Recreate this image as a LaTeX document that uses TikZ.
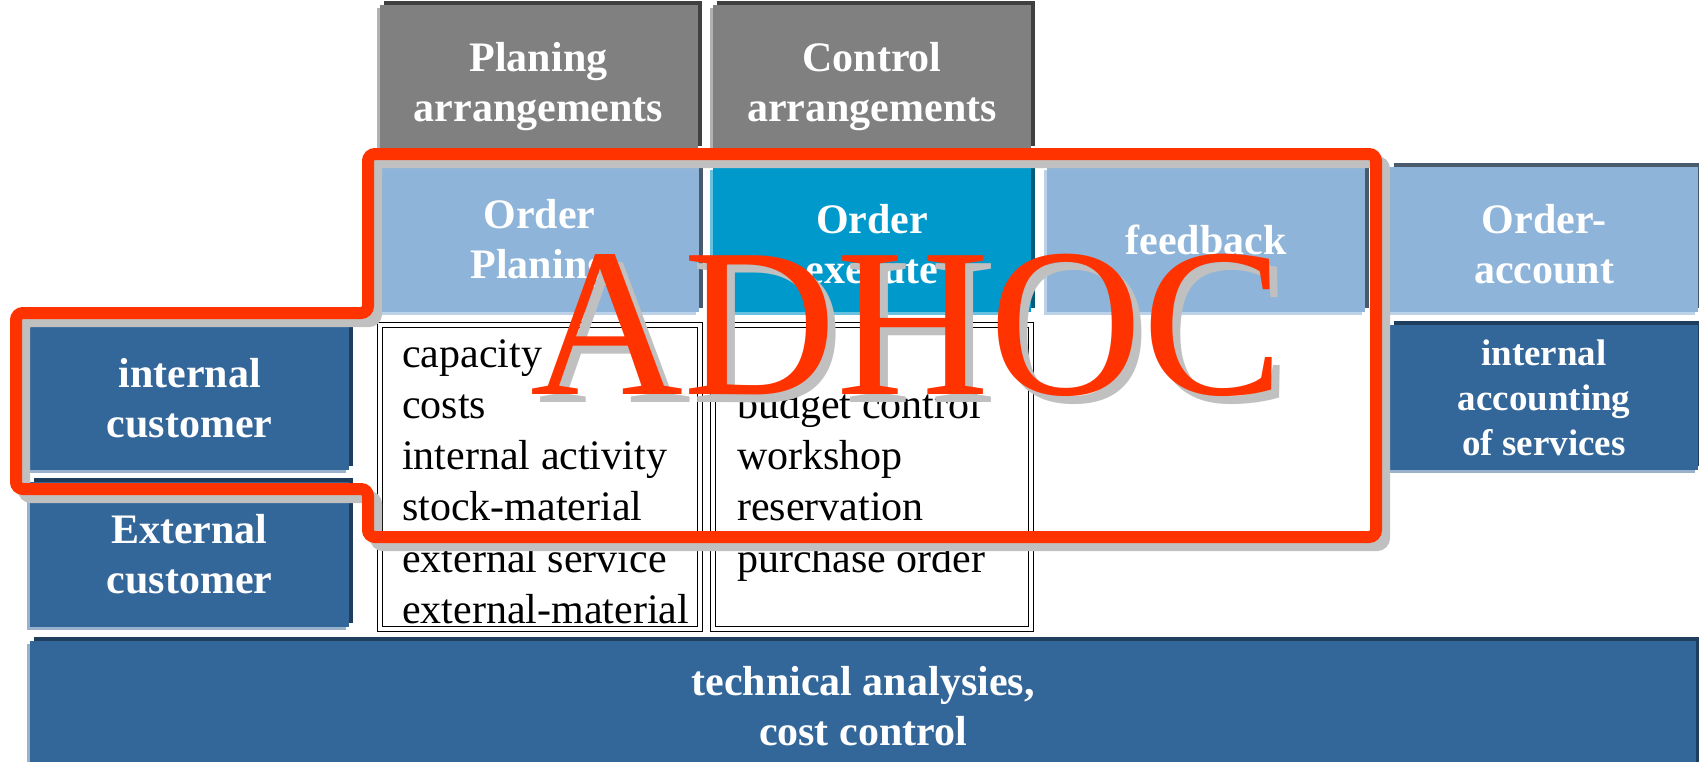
\documentclass[tikz,border=0pt]{standalone}
\usepackage{fontspec}
\setmainfont{Liberation Serif}
\usetikzlibrary{shadows}
\definecolor{BoxGray}{RGB}{128,128,128}
\definecolor{PaleBlue}{RGB}{143,180,217}
\definecolor{Teal}{RGB}{0,153,204}
\definecolor{Navy}{RGB}{51,102,153}
\definecolor{AdhocRed}{RGB}{255,51,0}
\definecolor{ShadowGray}{RGB}{192,192,192}
\newcommand{\topgap}[1]{\rule{0pt}{#1pt}}

\begin{document}
\begin{tikzpicture}[x=1pt,y=-1pt,
  box/.style={minimum width=318,minimum height=145,inner sep=0,align=center,text=white,
    font=\bfseries\fontsize{42}{50}\selectfont},
  edges/.style 2 args={general shadow={fill=#1,shadow xshift=-3,shadow yshift=3},
    general shadow={fill=#2,shadow xshift=4,shadow yshift=-4}},
  greybox/.style={box,fill=BoxGray,edges={black!30}{black!75}},
  palebox/.style={box,fill=PaleBlue,edges={PaleBlue!60}{PaleBlue!50!black}},
  tealbox/.style={box,fill=Teal,edges={Teal!60}{Teal!60!black}},
  navybox/.style={box,fill=Navy,edges={Navy!50}{Navy!60!black}},
  listbox/.style={draw,double,double distance=3.5,line width=1,fill=white,minimum width=320,
    minimum height=304,general shadow={fill=ShadowGray,shadow xshift=3,shadow yshift=-3}},
  listtext/.style={anchor=base west,inner sep=0,font=\fontsize{42}{50}\selectfont}]
  \useasboundingbox (0,0) rectangle (1699,761);
  \clip (0,0) rectangle (1699,761);

  % arrangements
  \node[greybox] (planarr) at (538.5,77) {\topgap{48}Planing\\arrangements};
  \node[greybox] (ctrlarr) at (872,77) {\topgap{48}Control\\arrangements};

  % order row
  \node[palebox] (ordplan) at (539.5,239.5) {\topgap{38}Order\\Planing};
  \node[tealbox] (ordexec) at (872,239.5) {\topgap{38}Order\\execute};
  \node[palebox] (feedback) at (1206,239.5) {feedback};
  \node[palebox,minimum width=308] (ordacc) at (1544,239.5) {\topgap{38}Order-\\account};

  % customers and accounting
  \node[navybox,minimum width=319,minimum height=143] (intcust) at (189.5,398.5) {internal\\customer};
  \node[navybox,minimum width=319] (extcust) at (189.5,554.5) {External\\customer};
  \node[navybox,minimum width=308,font=\bfseries\fontsize{37}{45}\selectfont] (intacc) at (1544,397.5)
    {internal\\accounting\\of services};
  \node[navybox,minimum width=1666,minimum height=130] (techan) at (863,706) {\topgap{18}technical analysies,\\cost control};

  % lists
  \node[listbox] (planlist) at (540,477) {};
  \node[listbox,minimum width=318] (execlist) at (872,477) {};
  \foreach \t [count=\i from 0] in {capacity,costs,internal activity,stock-material,external service,external-material}
    \node[listtext] (plan\i) at (402,367+51.3*\i) {\t};
  \foreach \t [count=\i from 1] in {budget control,workshop,reservation,purchase order}
    \node[listtext] (exec\i) at (737,367+51.3*\i) {\t};

  % adhoc frame
  \foreach \s/\c in {8/ShadowGray,0/AdhocRed}
    \draw[line width=12,\c,rounded corners=7,shift={(\s,\s)}] (16,313) -- (368,313) -- (368,154) -- (1376,154)
      -- (1376,537) -- (368,537) -- (368,489) -- (16,489) -- cycle;
  \foreach \s/\c in {8/ShadowGray,0/AdhocRed}
    \node[text=\c,anchor=base,inner sep=0,font=\fontsize{212}{212}\selectfont] (adhoc\s) at (907+\s,394+\s) {ADHOC};
\end{tikzpicture}
\end{document}
